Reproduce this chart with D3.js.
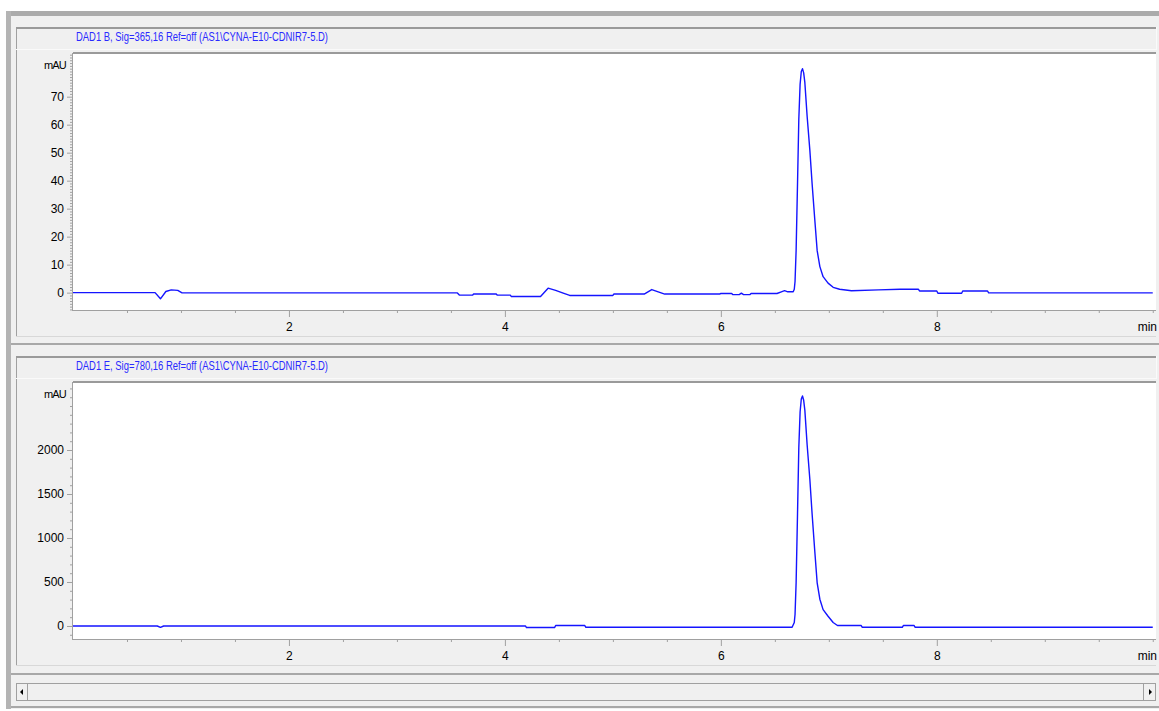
<!DOCTYPE html>
<html>
<head>
<meta charset="utf-8">
<script src="https://cdn.jsdelivr.net/npm/d3@7"></script>
<style>
html,body{margin:0;padding:0;background:#fff;}
svg{display:block;}
text{font-family:"Liberation Sans Narrow","Arial Narrow","Liberation Sans",Arial,sans-serif;}
</style>
</head>
<body>
<svg id="chart" width="1159" height="711"></svg>
<script>
// ---------- data ----------
const titleTop = "DAD1 B, Sig=365,16 Ref=off (AS1\\CYNA-E10-CDNIR7-5.D)";
const titleBottom = "DAD1 E, Sig=780,16 Ref=off (AS1\\CYNA-E10-CDNIR7-5.D)";
const xUnit = "min";
const yUnit = "mAU";
const xMajorTicks = [2, 4, 6, 8];
const yMajorTicksTop = [0, 10, 20, 30, 40, 50, 60, 70];
const yMajorTicksBottom = [0, 500, 1000, 1500, 2000];

// top trace (DAD1 B, 365 nm): time (min), absorbance (mAU)
const timeTop = [0, 0.76, 0.81, 0.86, 0.91, 0.97, 1.01, 3.56, 3.58, 3.70, 3.71, 3.92, 3.93, 4.05, 4.06, 4.33, 4.40, 4.47, 4.54, 4.60, 5.00, 5.01, 5.29, 5.36, 5.42, 5.48, 5.99, 6.00, 6.10, 6.11, 6.17, 6.19, 6.21, 6.27, 6.28, 6.52, 6.56, 6.59, 6.62, 6.67, 6.68, 6.687, 6.697, 6.71, 6.722, 6.734, 6.745, 6.756, 6.767, 6.778, 6.799, 6.824, 6.845, 6.868, 6.892, 6.917, 6.947, 6.993, 7.04, 7.10, 7.21, 7.46, 7.66, 7.83, 7.84, 8.00, 8.01, 8.23, 8.24, 8.47, 8.48, 10.0];
const signalTop = [0, 0, -2.2, 0.4, 1.0, 0.8, -0.1, -0.1, -0.9, -0.9, -0.5, -0.5, -0.9, -0.9, -1.4, -1.4, 1.6, 0.8, -0.2, -1.0, -1.0, -0.5, -0.5, 1.1, 0.3, -0.5, -0.5, -0.3, -0.3, -0.7, -0.7, -0.2, -0.7, -0.7, -0.3, -0.3, 0.3, 0.7, 0.3, 0.3, 1.2, 4, 15, 39, 62, 74.5, 79, 80, 78.5, 75, 63, 51, 39, 27, 15, 9.3, 5.7, 3.4, 1.9, 1.2, 0.7, 1.0, 1.2, 1.2, 0.6, 0.6, -0.2, -0.2, 0.6, 0.6, -0.1, -0.1];

// bottom trace (DAD1 E, 780 nm)
const timeBottom = [0, 0.78, 0.81, 0.84, 4.19, 4.20, 4.46, 4.47, 4.74, 4.75, 6.66, 6.68, 6.687, 6.697, 6.71, 6.722, 6.734, 6.745, 6.756, 6.767, 6.778, 6.799, 6.824, 6.845, 6.868, 6.892, 6.917, 6.947, 6.993, 7.04, 7.08, 7.30, 7.31, 7.68, 7.69, 7.79, 7.80, 10.0];
const signalBottom = [0, 0, -15, 0, 0, -18, -18, 5, 5, -15, -15, 40, 130, 490, 1275, 2030, 2435, 2580, 2614, 2565, 2450, 2060, 1670, 1275, 880, 490, 304, 186, 111, 40, 5, 5, -15, -15, 5, 5, -15, -15];

// ---------- drawing ----------
const svg = d3.select("#chart");
const W = 1159, H = 711;
const gridGray = "#a0a0a0";
const bg = "#f0f0f0";

// outer frame
svg.append("rect").attr("x", 6).attr("y", 11).attr("width", W - 6).attr("height", 698).attr("fill", bg);
svg.append("rect").attr("x", 6).attr("y", 11).attr("width", W - 6).attr("height", 5).attr("fill", "#ababab");
svg.append("rect").attr("x", 6).attr("y", 11).attr("width", 5).attr("height", 698).attr("fill", "#b4b4b4");

const plotLeft = 73, plotRight = 1156;
const x = d3.scaleLinear().domain([0, 10.03]).range([plotLeft, plotRight]);

function panel(opt) {
  const g = svg.append("g");
  const top = opt.top;           // title box top
  const pTop = top + 26, pBot = top + 283;
  // panel box
  g.append("line").attr("x1", 16.5).attr("x2", 16.5).attr("y1", top).attr("y2", top + 309).attr("stroke", gridGray);
  g.append("line").attr("x1", 16).attr("x2", plotRight).attr("y1", top + 309.5).attr("y2", top + 309.5).attr("stroke", "#d8d8d8");
  // title box
  g.append("rect").attr("x", 16).attr("y", top).attr("width", plotRight - 16).attr("height", 2).attr("fill", "#9a9a9a");
  g.append("line").attr("x1", 16).attr("x2", plotRight).attr("y1", top + 22.5).attr("y2", top + 22.5).attr("stroke", "#fafafa");
  g.append("line").attr("x1", plotRight + 0.5).attr("x2", plotRight + 0.5).attr("y1", top).attr("y2", top + 23).attr("stroke", "#fafafa");
  g.append("text").attr("x", 76).attr("y", top + 14)
    .attr("font-size", 12).attr("fill", "#2a2aff")
    .attr("textLength", 252).attr("lengthAdjust", "spacingAndGlyphs")
    .text(opt.title);
  // plot area
  g.append("rect").attr("x", plotLeft).attr("y", pTop).attr("width", plotRight - plotLeft).attr("height", pBot - pTop).attr("fill", "#fff");
  g.append("rect").attr("x", plotLeft).attr("y", pTop - 1).attr("width", plotRight - plotLeft).attr("height", 2).attr("fill", "#9a9a9a");
  g.append("line").attr("x1", plotLeft - 0.5).attr("x2", plotLeft - 0.5).attr("y1", pTop).attr("y2", pBot).attr("stroke", gridGray);

  const y = d3.scaleLinear().domain(opt.yDomain).range([pBot, pTop]);

  // x axis
  const xMinor = d3.range(0.5, 10.01, 0.5).filter(v => !xMajorTicks.includes(v));
  const gx = g.append("g").attr("transform", `translate(0,${pBot})`);
  gx.append("g").call(d3.axisBottom(x).tickValues(xMinor).tickSize(3).tickFormat(""))
    .call(s => s.select(".domain").remove());
  gx.append("g").call(d3.axisBottom(x).tickValues(xMajorTicks).tickSize(7).tickPadding(5).tickFormat(d3.format("d")))
    .call(s => s.select(".domain").remove());
  gx.append("line").attr("x1", plotLeft - 1).attr("x2", plotRight).attr("y1", 0.5).attr("y2", 0.5).attr("stroke", gridGray);
  gx.selectAll(".tick line").attr("stroke", gridGray);
  gx.selectAll(".tick text").attr("font-size", 12).attr("fill", "#000").attr("font-family", null);
  gx.append("text").attr("x", plotRight + 1).attr("y", 17).attr("dy", "0.32em").attr("text-anchor", "end")
    .attr("font-size", 12).attr("fill", "#000").text(xUnit);

  // y axis
  const [y0, y1] = opt.yDomain;
  const yMinor = d3.range(Math.ceil(y0 / opt.minorStep) * opt.minorStep, y1, opt.minorStep)
    .filter(v => !opt.yMajor.includes(v));
  const gy = g.append("g").attr("transform", `translate(${plotLeft},0)`);
  gy.append("g").call(d3.axisLeft(y).tickValues(yMinor).tickSize(3).tickFormat(""))
    .call(s => s.select(".domain").remove());
  gy.append("g").call(d3.axisLeft(y).tickValues(opt.yMajor).tickSize(6).tickPadding(3).tickFormat(d3.format("d")))
    .call(s => s.select(".domain").remove());
  gy.selectAll(".tick line").attr("stroke", gridGray);
  gy.selectAll(".tick text").attr("font-size", 12).attr("fill", "#000").attr("font-family", null);
  g.append("text").attr("x", 66).attr("y", pTop + 12).attr("dy", "0.32em").attr("text-anchor", "end")
    .attr("font-size", 11).attr("fill", "#000").attr("letter-spacing", -0.8).text(yUnit);

  // trace
  const pts = opt.t.map((t, i) => [t, opt.v[i]]);
  const line = d3.line().x(d => x(d[0])).y(d => y(d[1]));
  g.append("path").datum(pts).attr("d", line)
    .attr("fill", "none").attr("stroke", "#1414ff").attr("stroke-width", 1.4).attr("stroke-linejoin", "round");
}

panel({ top: 27, title: titleTop, yDomain: [-6.2, 85.6], yMajor: yMajorTicksTop, minorStep: 1, t: timeTop, v: signalTop });
panel({ top: 356, title: titleBottom, yDomain: [-148, 2773], yMajor: yMajorTicksBottom, minorStep: 100, t: timeBottom, v: signalBottom });

// separators
svg.append("rect").attr("x", 11).attr("y", 343).attr("width", W - 11).attr("height", 2).attr("fill", "#a8a8a8");
svg.append("rect").attr("x", 11).attr("y", 673).attr("width", W - 11).attr("height", 2).attr("fill", "#a8a8a8");

// scrollbar
svg.append("rect").attr("x", 16.5).attr("y", 683.5).attr("width", plotRight - 17).attr("height", 17).attr("fill", bg).attr("stroke", gridGray);
svg.append("line").attr("x1", 27.5).attr("x2", 27.5).attr("y1", 684).attr("y2", 700).attr("stroke", gridGray);
svg.append("line").attr("x1", 1143.5).attr("x2", 1143.5).attr("y1", 684).attr("y2", 700).attr("stroke", gridGray);
svg.append("path").attr("d", "M20,692 L23,689 L23,695 Z").attr("fill", "#000");
svg.append("path").attr("d", "M1152,692 L1149,689 L1149,695 Z").attr("fill", "#000");
svg.append("rect").attr("x", 11).attr("y", 706).attr("width", W - 11).attr("height", 2).attr("fill", "#a8a8a8");
</script>
</body>
</html>
